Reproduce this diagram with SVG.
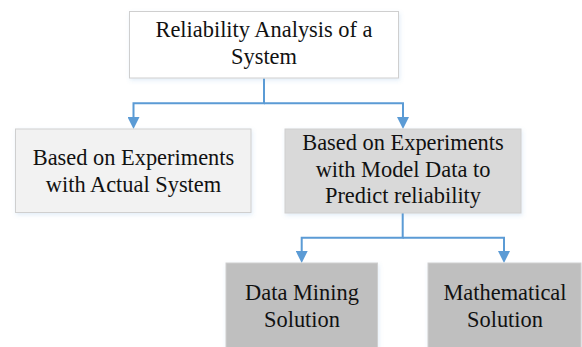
<svg xmlns="http://www.w3.org/2000/svg" width="582" height="347" viewBox="0 0 582 347">
  <style>
    .box { stroke: #cfcfcf; stroke-width: 1; filter: url(#sh); }
    .lbl { font-size: 22.4px; fill: #111; text-anchor: middle; }
    .conn { fill: none; stroke: #5b9bd5; stroke-width: 2; marker-end: url(#arr); }
  </style>
  <defs>
    <marker id="arr" viewBox="0 0 12 12" refX="0" refY="6" markerWidth="12" markerHeight="12" markerUnits="userSpaceOnUse" orient="auto">
      <path d="M0,0 L12,6 L0,12 z" fill="#5b9bd5"/>
    </marker>
    <filter id="sh" x="-10%" y="-10%" width="120%" height="130%">
      <feDropShadow dx="1" dy="2" stdDeviation="2" flood-color="#5b9bd5" flood-opacity="0.18"/>
    </filter>
  </defs>
  <rect width="582" height="347" fill="#ffffff"/>
  <g id="connectors">
    <path class="conn" d="M264,78.5 V103.3 H133.5 V117"/>
    <path class="conn" d="M264,103.3 H403 V117"/>
    <path class="conn" d="M402.7,213 V237.8 H301.7 V251"/>
    <path class="conn" d="M402.7,237.8 H504 V251"/>
  </g>
  <g font-family="Liberation Serif, Tinos, Times New Roman, DejaVu Serif, serif">
  <g id="root">
    <rect class="box" x="129.5" y="11.5" width="269" height="66.5" fill="#ffffff"/>
    <text class="lbl" x="264" y="36.7">Reliability Analysis of a</text>
    <text class="lbl" x="264" y="64">System</text>
  </g>
  <g id="actual">
    <rect class="box" x="15.5" y="129" width="235.5" height="83.5" fill="#f2f2f2"/>
    <text class="lbl" x="133.5" y="165">Based on Experiments</text>
    <text class="lbl" x="133.5" y="191.7">with Actual System</text>
  </g>
  <g id="model">
    <rect class="box" x="285" y="129" width="236" height="84" fill="#d9d9d9"/>
    <text class="lbl" x="403" y="150">Based on Experiments</text>
    <text class="lbl" x="403" y="176.7">with Model Data to</text>
    <text class="lbl" x="403" y="203.3">Predict reliability</text>
  </g>
  <g id="datamining">
    <rect class="box" x="226" y="263" width="151.5" height="90" fill="#bfbfbf"/>
    <text class="lbl" x="302" y="300">Data Mining</text>
    <text class="lbl" x="302" y="326.7">Solution</text>
  </g>
  <g id="mathematical">
    <rect class="box" x="428" y="263" width="153" height="90" fill="#bfbfbf"/>
    <text class="lbl" x="505" y="300">Mathematical</text>
    <text class="lbl" x="505" y="326.7">Solution</text>
  </g>
  </g>
</svg>
